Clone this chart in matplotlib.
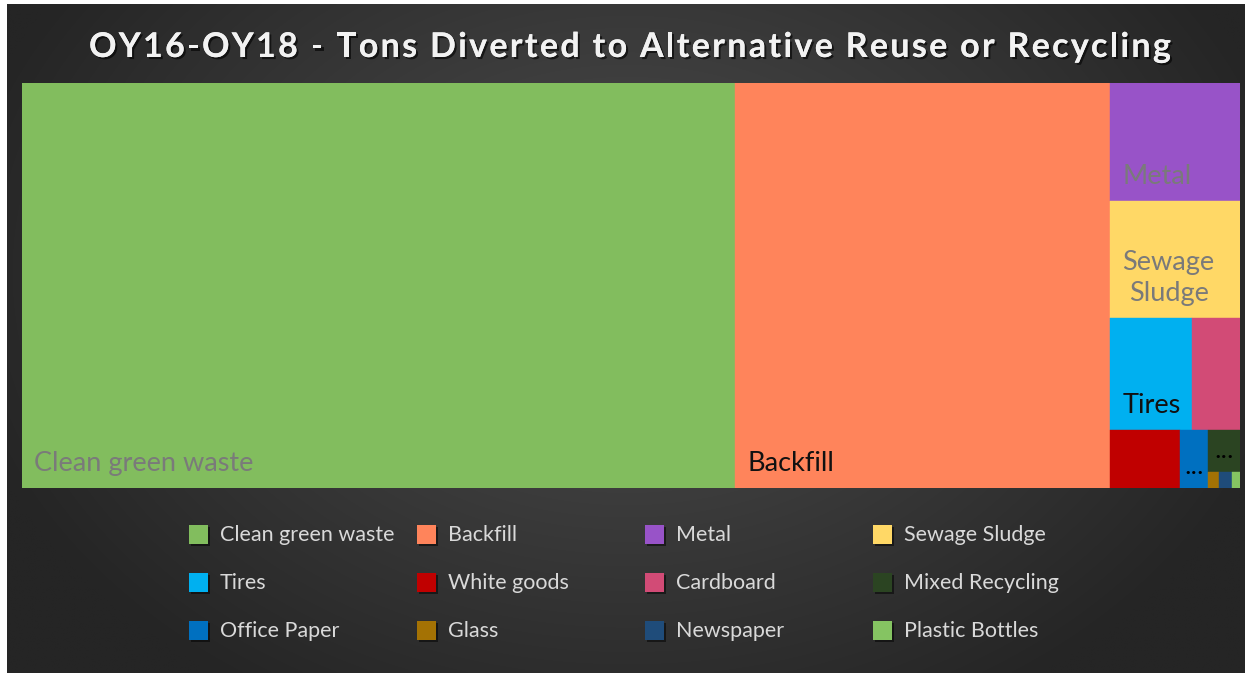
import numpy as np
import matplotlib
matplotlib.use("Agg")
import matplotlib.pyplot as plt
from matplotlib.patches import Rectangle
import matplotlib.patheffects as pe
import matplotlib.transforms as mtrans

# ---------------- data ----------------
title = "OY16-OY18 - Tons Diverted to Alternative Reuse or Recycling"
categories = ["Clean green waste", "Backfill", "Metal", "Sewage Sludge",
              "Tires", "White goods", "Cardboard", "Mixed Recycling",
              "Office Paper", "Glass", "Newspaper", "Plastic Bottles"]
tons = [28877, 15188, 1534, 1521, 918, 406, 538, 134, 162, 18, 21, 13]
colors = ["#82BD5E", "#FF845B", "#9853C8", "#FFD866", "#00B0F0", "#C00000",
          "#D24B76", "#2B4422", "#0070C0", "#A47204", "#1F4C7A", "#85C462"]
# labels shown inside tiles (None = none, "…" = too small)
tile_labels = ["Clean green waste", "Backfill", "Metal", "Sewage\nSludge",
               "Tires", None, None, "…", "…", None, None, None]
label_colors = ["#7A7A7A", "#111111", "#7A7A7A", "#7A7A7A", "#111111", None,
                None, "#000000", "#000000", None, None, None]

# treemap nesting (category indices), orientation alternates h / v
layout_tree = [0, 1, [2, 3, [4, 6], [5, 8, [7, [9, 10, 11]]]]]

# ---------------- figure ----------------
W, H, DPI = 1250, 673, 100
fig = plt.figure(figsize=(W / DPI, H / DPI), dpi=DPI, facecolor="white")

def fr(x0, y0, x1, y1):
    # pixel box (top-left origin) to figure fraction
    return [x0 / W, 1 - y1 / H, (x1 - x0) / W, (y1 - y0) / H]

# background radial gradient
bg = fig.add_axes(fr(7, 4, 1245, 673))
bg.set_axis_off()
ny, nx = 300, 560
yy, xx = np.mgrid[0:ny, 0:nx]
cx, cy = nx * 0.50, ny * 0.40
d = np.sqrt(((xx - cx) / (nx * 0.55)) ** 2 + ((yy - cy) / (ny * 0.75)) ** 2)
d = np.clip(d, 0, 1)
c_in = np.array([0x4E, 0x4E, 0x4E]) / 255
c_out = np.array([0x25, 0x25, 0x25]) / 255
img = c_in[None, None, :] * (1 - d[..., None]) + c_out[None, None, :] * d[..., None]
bg.imshow(img, aspect="auto", extent=(0, 1, 0, 1), interpolation="bilinear")
bg.set_xlim(0, 1)
bg.set_ylim(0, 1)

# title with letter spacing
renderer = fig.canvas.get_renderer()
title_kw = dict(fontsize=24.5, fontweight="bold", family="Lato", color="#F2F2F2")
def text_w(s):
    t = fig.text(0, 0, s, **title_kw)
    w = t.get_window_extent(renderer).width
    t.remove()
    return w
tracking = 2.3  # px between characters
full_w = text_w(title) + tracking * (len(title) - 1)
x_start = 630 - full_w / 2
shadow = [pe.withSimplePatchShadow(offset=(1.5, -1.5), shadow_rgbFace="black", alpha=0.6),
          pe.Normal()]
for i, ch in enumerate(title):
    if ch == " ":
        continue
    x_ch = text_w(title[:i + 1]) - text_w(ch) + tracking * i
    fig.text((x_start + x_ch) / W, 1 - 57 / H, ch, ha="left", va="baseline",
             path_effects=shadow, **title_kw)

# treemap
ax = fig.add_axes(fr(22, 83, 1240, 488))
ax.set_xlim(0, 1)
ax.set_ylim(1, 0)
ax.set_axis_off()

def node_sum(node):
    if isinstance(node, list):
        return sum(node_sum(n) for n in node)
    return tons[node]

rects = {}
def lay(node, x, y, w, h, horiz):
    if not isinstance(node, list):
        rects[node] = (x, y, w, h)
        return
    total = node_sum(node)
    pos = 0.0
    for n in node:
        f = node_sum(n) / total
        if horiz:
            lay(n, x + pos * w, y, f * w, h, not horiz)
        else:
            lay(n, x, y + pos * h, w, f * h, not horiz)
        pos += f

lay(layout_tree, 0, 0, 1, 1, True)

shadow_tr = ax.transData + mtrans.ScaledTranslation(2 / DPI, -2 / DPI, fig.dpi_scale_trans)
for i, (x, y, w, h) in rects.items():
    ax.add_patch(Rectangle((x, y), w, h, facecolor="black", alpha=0.35,
                           transform=shadow_tr, linewidth=0, zorder=1))
    ax.add_patch(Rectangle((x, y), w, h, facecolor=colors[i], edgecolor=colors[i],
                           linewidth=0.3, zorder=2))

for i, (x, y, w, h) in rects.items():
    lab = tile_labels[i]
    if lab is None:
        continue
    if lab == "…":
        ax.annotate("•••", xy=(x + w / 2, y + h), xytext=(0, 10.5),
                    textcoords="offset points", ha="center", va="center",
                    fontsize=8, family="DejaVu Sans", color="black", zorder=3)
        continue
    ax.annotate(lab, xy=(x, y + h), xytext=(9, 8.5), textcoords="offset points",
                ha="left", va="bottom", fontsize=19.5, family="Lato",
                color=label_colors[i], multialignment="center",
                linespacing=1.3, zorder=3)

# legend
col_x = [190, 418, 646, 874]
row_y = [535, 583, 631]
for k, name in enumerate(categories):
    r, c = divmod(k, 4)
    mx, my = col_x[c], row_y[r]
    la = fig.add_axes(fr(mx - 2, my - 12, mx + 22, my + 14))
    la.set_axis_off()
    la.set_xlim(0, 24)
    la.set_ylim(26, 0)
    la.add_patch(Rectangle((3, 4), 19, 19, facecolor="black", alpha=0.5, linewidth=0))
    la.add_patch(Rectangle((1, 2), 19, 19, facecolor=colors[k], linewidth=0))
    fig.text((mx + 30) / W, 1 - my / H, name, ha="left", va="center",
             fontsize=15.5, family="Lato", color="#D9D9D9")

fig.savefig("out.png", dpi=DPI, facecolor="white")
